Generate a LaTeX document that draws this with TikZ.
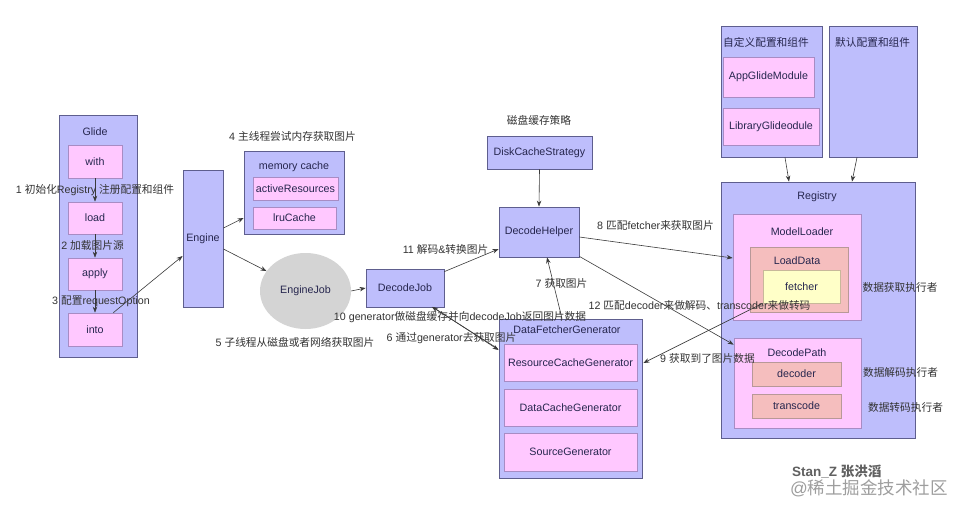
\documentclass[tikz,border=0pt]{standalone}
\usepackage{fontspec}
\setmainfont{Liberation Sans}
\newfontfamily\cjk{Noto Sans CJK SC}
\usetikzlibrary{calc,arrows.meta,shapes.geometric}
\newcommand\zh[1]{{\cjk #1}}
\definecolor{lav}{HTML}{BEBEFC}
\definecolor{bord}{HTML}{5E5E8E}
\definecolor{pinkf}{HTML}{FFC8FF}
\definecolor{pinkd}{HTML}{A88CC4}
\definecolor{salf}{HTML}{F5BEBE}
\definecolor{sald}{HTML}{B89898}
\definecolor{yelf}{HTML}{FFFFC8}
\definecolor{yeld}{HTML}{C8B89A}
\definecolor{grayf}{HTML}{D4D4D4}
\definecolor{boxtxt}{HTML}{26264E}
\definecolor{lbltxt}{HTML}{333333}
\definecolor{linec}{HTML}{3A3A3A}
\begin{document}
\begin{tikzpicture}[x=1pt,y=-1pt,
  font=\fontsize{10.7}{12}\selectfont,
  wh/.style 2 args={minimum width=#1pt, minimum height=#2pt},
  outer/.style={rectangle, draw=bord, fill=lav, line width=0.8pt, inner sep=0pt, text=boxtxt},
  pinkb/.style={rectangle, draw=pinkd, fill=pinkf, line width=0.7pt, inner sep=0pt, text=boxtxt},
  salb/.style={rectangle, draw=sald, fill=salf, line width=0.7pt, inner sep=0pt, text=boxtxt},
  yelb/.style={rectangle, draw=yeld, fill=yelf, line width=0.7pt, inner sep=0pt, text=boxtxt},
  intitle/.style={inner sep=0pt, text=boxtxt},
  lbl/.style={inner sep=0pt, text=lbltxt},
  arr/.style={draw=linec, line width=0.6pt, -{Stealth[length=6pt,width=4.5pt]}},
]
\useasboundingbox[fill=white] (0,0) rectangle (968,511);

% Glide
\node[outer, wh={78}{242}] (glide) at (98,236) {};
\node[intitle] (glideT) at (95,132) {Glide};
\node[pinkb, wh={54}{33}] (with) at (95,161.5) {with};
\node[pinkb, wh={54}{32}] (load) at (95,218) {load};
\node[pinkb, wh={54}{32}] (apply) at (95,274) {apply};
\node[pinkb, wh={54}{33}] (into) at (95,329.5) {into};

% Engine
\node[outer, wh={40}{137}] (Engine) at (203,238.5) {Engine};

% memory cache
\node[outer, wh={100}{83}] (memory) at (294,192.5) {};
\node[intitle] (memoryT) at (294,167) {memory cache};
\node[pinkb, wh={85}{23}] (active) at (295.5,188.5) {activeResources};
\node[pinkb, wh={83}{22}] (lru) at (294.5,218) {lruCache};

% EngineJob
\node[ellipse, fill=grayf, inner sep=0pt, wh={91}{76}, text=boxtxt] (EngineJob) at (305.5,291) {EngineJob};

% DecodeJob
\node[outer, wh={78}{38}] (DecodeJob) at (405,288) {DecodeJob};

% DiskCacheStrategy, DecodeHelper
\node[outer, wh={105}{33}] (Disk) at (539.5,152.5) {DiskCacheStrategy};
\node[outer, wh={80}{50}] (Helper) at (539,232) {DecodeHelper};

% DataFetcherGenerator
\node[outer, wh={143}{159}] (DFG) at (570.5,398.5) {};
\node[intitle] (DFGT) at (567,330) {DataFetcherGenerator};
\node[pinkb, wh={133}{37}] (RCG) at (570.5,362.5) {ResourceCacheGenerator};
\node[pinkb, wh={133}{37}] (DCG) at (570.5,407.5) {DataCacheGenerator};
\node[pinkb, wh={133}{38}] (SG) at (570.5,452) {SourceGenerator};

% Custom / default config
\node[outer, wh={101}{131}] (custom) at (771.5,91.5) {};
\node[intitle, anchor=west] (customT) at (723,42) {\zh{自定义配置和组件}};
\node[pinkb, wh={91}{40}] (AppGM) at (768.5,77) {AppGlideModule};
\node[pinkb, wh={96}{37}] (LibGM) at (771,126.5) {LibraryGlideodule};
\node[outer, wh={88}{131}] (default) at (873,91.5) {};
\node[intitle, anchor=west] (defaultT) at (835,42) {\zh{默认配置和组件}};

% Registry
\node[outer, wh={194}{256}] (Registry) at (818,310) {};
\node[intitle] (RegistryT) at (817,197) {Registry};
\node[pinkb, wh={128}{106}] (ModelLoader) at (797,267) {};
\node[intitle] (ModelLoaderT) at (802,232) {ModelLoader};
\node[salb, wh={98}{65}] (LoadData) at (799,279.5) {};
\node[intitle] (LoadDataT) at (797,261) {LoadData};
\node[yelb, wh={77}{33}] (fetcher) at (801.5,286.5) {fetcher};
\node[pinkb, wh={127}{90}] (DecodePath) at (797.5,383) {};
\node[intitle] (DecodePathT) at (797,353) {DecodePath};
\node[salb, wh={89}{24}] (decoder) at (796.5,374) {decoder};
\node[salb, wh={89}{24}] (transcode) at (796.5,406) {transcode};

% side labels
\node[lbl] (s1) at (900,287) {\zh{数据获取执行者}};
\node[lbl] (s2) at (900.5,372) {\zh{数据解码执行者}};
\node[lbl] (s3) at (905.5,407) {\zh{数据转码执行者}};
\node[lbl] (diskT) at (539,120) {\zh{磁盘缓存策略}};

% connectors
\draw[arr] (with.south) -- (load.north);
\draw[arr] (load.south) -- (apply.north);
\draw[arr] (apply.south) -- (into.north);
\draw[arr] ($(into.north east)+(-9,0)$) -- ($(Engine.west)+(0,17.5)$);
\draw[arr] ($(Engine.east)+(0,-10.5)$) -- ($(memory.west)+(0,25.5)$);
\draw[arr] ($(Engine.east)+(0,10.5)$) -- (EngineJob);
\draw[arr] (EngineJob.east) -- (DecodeJob.west);
\draw[arr] ($(DecodeJob.north east)+(0,3)$) -- ($(Helper.west)+(0,17)$);
\draw[arr] (Disk.south) -- (Helper.north);
\draw[arr] ($(DFG.north)+(-8.5,0)$) -- ($(Helper.south)+(8,0)$);
\draw[arr] ($(DecodeJob.south east)+(-11,0)$) -- ($(DFG.west)+(0,-48.5)$);
\draw[arr] ($(DFG.west)+(-1,-50)$) -- ($(DecodeJob.south east)+(-12.5,-0.5)$);
\draw[arr] ($(Helper.east)+(0,5)$) -- ($(ModelLoader.west)+(0,-9)$);
\draw[arr] ($(Helper.south east)+(0,-1)$) -- ($(DecodePath.north west)+(0,7)$);
\draw[arr] (fetcher.south west) -- ($(DFG.east)+(1,-35.5)$);
\draw[arr] ($(custom.south)+(13.5,0)$) -- ($(Registry.north)+(-29,0)$);
\draw[arr] ($(default.south)+(-16,0)$) -- ($(Registry.north)+(34,0)$);

% step labels
\node[lbl] (L1) at (95,190) {1 \zh{初始化}Registry \zh{注册配置和组件}};
\node[lbl] (L2) at (92.5,245) {2 \zh{加载图片源}};
\node[lbl] (L3) at (101,301) {3 \zh{配置}requestOption};
\node[lbl] (L4) at (292.5,136) {4 \zh{主线程尝试内存获取图片}};
\node[lbl] (L5) at (295,342) {5 \zh{子线程从磁盘或者网络获取图片}};
\node[lbl] (L6) at (451.5,338) {6 \zh{通过}generator\zh{去获取图片}};
\node[lbl] (L7) at (561.5,283) {7 \zh{获取图片}};
\node[lbl] (L8) at (655.5,225) {8 \zh{匹配}fetcher\zh{来获取图片}};
\node[lbl] (L9) at (707.5,358) {9 \zh{获取到了图片数据}};
\node[lbl] (L10) at (460,317) {10 generator\zh{做磁盘缓存并向}decodeJob\zh{返回图片数据}};
\node[lbl] (L11) at (445.5,249) {11 \zh{解码}\&\zh{转换图片}};
\node[lbl] (L12) at (699.5,305) {12 \zh{匹配}decoder\zh{来做解码、}transcoder\zh{来做转码}};

% watermark
\node[inner sep=0pt, anchor=west, text=black!62, font=\fontsize{13.5}{14}\selectfont\bfseries] (wm1) at (792,472) {Stan\_Z \zh{张洪滔}};
\node[inner sep=0pt, anchor=west, text=black!38, font=\fontsize{17.5}{19}\selectfont] (wm2) at (790,488) {@\zh{稀土掘金技术社区}};
\end{tikzpicture}
\end{document}
